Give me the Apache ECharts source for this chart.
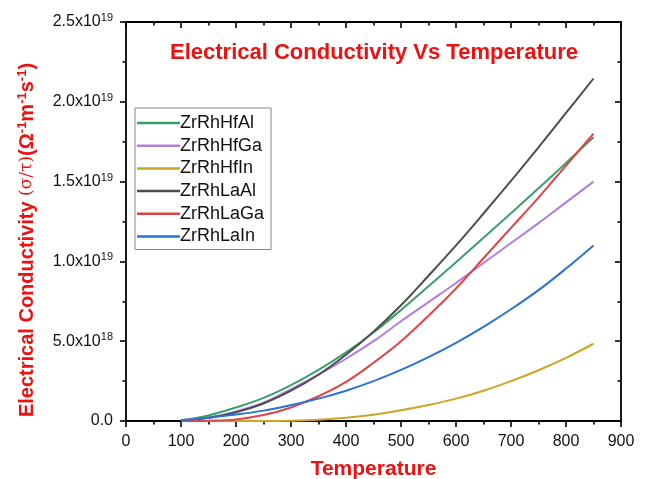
<!DOCTYPE html>
<html>
<head>
<meta charset="utf-8">
<script src="https://cdn.jsdelivr.net/npm/echarts@6/dist/echarts.min.js"></script>
<style>
  html, body { margin: 0; padding: 0; background: #fff; }
  #chart { width: 646px; height: 479px; }
</style>
</head>
<body>
<div id="chart"></div>
<script>
// temperatures (x) and conductivity values in units of 1e19
const temps = [100, 150, 200, 250, 300, 350, 400, 450, 500, 550, 600, 650, 700, 750, 800, 850];
const seriesNames = ['ZrRhHfAl', 'ZrRhHfGa', 'ZrRhHfIn', 'ZrRhLaAl', 'ZrRhLaGa', 'ZrRhLaIn'];
const zrRhHfAl = [0.005, 0.035, 0.085, 0.145, 0.225, 0.32, 0.43, 0.555, 0.695, 0.845, 0.995, 1.148, 1.302, 1.458, 1.617, 1.778];
const zrRhHfGa = [0.005, 0.02, 0.06, 0.115, 0.20, 0.29, 0.39, 0.50, 0.625, 0.745, 0.865, 0.99, 1.115, 1.24, 1.37, 1.50];
const zrRhHfIn = [0, 0, 0, 0, 0.002, 0.008, 0.02, 0.039, 0.067, 0.10, 0.14, 0.19, 0.25, 0.318, 0.396, 0.484];
const zrRhLaAl = [0.003, 0.02, 0.055, 0.11, 0.19, 0.29, 0.415, 0.56, 0.725, 0.91, 1.10, 1.30, 1.505, 1.715, 1.93, 2.146];
const zrRhLaGa = [0, 0.002, 0.01, 0.037, 0.085, 0.155, 0.245, 0.365, 0.50, 0.66, 0.83, 1.02, 1.21, 1.40, 1.60, 1.80];
const zrRhLaIn = [0.004, 0.02, 0.04, 0.065, 0.10, 0.14, 0.19, 0.25, 0.32, 0.40, 0.49, 0.59, 0.70, 0.82, 0.955, 1.10];
const yTickLabels = ['0.0', '5.0x10{s|18}', '1.0x10{s|19}', '1.5x10{s|19}', '2.0x10{s|19}', '2.5x10{s|19}'];
const colors = ['#3b9f6c', '#b07ee0', '#d0a424', '#4d4d4d', '#e04545', '#2a74d4'];

const allValues = [zrRhHfAl, zrRhHfGa, zrRhHfIn, zrRhLaAl, zrRhLaGa, zrRhLaIn];
const FONT = 'Liberation Sans, Arial, sans-serif';
const RED = '#ee1111';

const chart = echarts.init(document.getElementById('chart'), null, { renderer: 'canvas' });

const axisLine = { show: true, onZero: false, lineStyle: { color: '#000', width: 1.8 } };
const tickStyle = { color: '#000', width: 1.6 };

const option = {
  backgroundColor: '#fff',
  animation: false,
  title: {
    text: 'Electrical Conductivity Vs Temperature',
    left: 369,
    top: 37,
    textAlign: 'center',
    textStyle: { color: RED, fontFamily: FONT, fontWeight: 'bold', fontSize: 22 }
  },
  grid: { left: 126, right: 25, top: 22, bottom: 58, outerBoundsMode: 'none' },
  legend: {
    orient: 'vertical',
    left: 135,
    top: 108,
    padding: [6, 7, 4, 2],
    itemGap: 4.7,
    itemWidth: 43,
    itemHeight: 2.5,
    icon: 'rect',
    borderColor: '#888',
    borderWidth: 1,
    textStyle: { color: '#111', fontFamily: FONT, fontSize: 18, lineHeight: 18, padding: [0, 0, 0, -5] },
    data: seriesNames
  },
  graphic: [{
    type: 'text',
    x: 27,
    y: 240,
    rotation: Math.PI / 2,
    style: {
      text: '{b|Electrical Conductivity }{n|(σ/τ)}{b|(Ω}{s|-1}{b|m}{s|-1}{b|s}{s|-1}{b|)}',
      align: 'center',
      verticalAlign: 'middle',
      rich: {
        b: { fill: RED, fontFamily: FONT, fontWeight: 'bold', fontSize: 20 },
        n: { fill: RED, fontFamily: 'DejaVu Serif, serif', fontSize: 17 },
        s: { fill: RED, fontFamily: FONT, fontWeight: 'bold', fontSize: 13, padding: [0, 0, 9, 0] }
      }
    }
  }],
  xAxis: [{
    type: 'value',
    min: 0,
    max: 900,
    interval: 100,
    name: 'Temperature',
    nameLocation: 'middle',
    nameGap: 38,
    nameTextStyle: { color: RED, fontFamily: FONT, fontWeight: 'bold', fontSize: 21 },
    axisLine: axisLine,
    axisTick: { show: true, inside: false, length: 6, lineStyle: tickStyle },
    minorTick: { show: true, splitNumber: 2, length: 3.5, lineStyle: tickStyle },
    axisLabel: { color: '#111', fontFamily: FONT, fontSize: 16, margin: 13 },
    splitLine: { show: false }
  }, {
    type: 'value',
    position: 'top',
    min: 0,
    max: 900,
    interval: 100,
    axisLine: axisLine,
    axisTick: { show: true, inside: true, length: 6, lineStyle: tickStyle },
    minorTick: { show: true, splitNumber: 2, length: 3.5, lineStyle: tickStyle },
    axisLabel: { show: false },
    splitLine: { show: false }
  }],
  yAxis: [{
    type: 'value',
    min: 0,
    max: 2.5,
    interval: 0.5,
    axisLine: axisLine,
    axisTick: { show: true, inside: false, length: 6, lineStyle: tickStyle },
    minorTick: { show: true, splitNumber: 2, length: 3.5, lineStyle: tickStyle },
    axisLabel: {
      color: '#111',
      fontFamily: FONT,
      fontSize: 16,
      margin: 13,
      formatter: function (v) {
        return yTickLabels[Math.round(v / 0.5)];
      },
      rich: {
        s: { fontSize: 11, fontFamily: FONT, color: '#111', padding: [0, 0, 8, 0] }
      }
    },
    splitLine: { show: false }
  }, {
    type: 'value',
    position: 'right',
    min: 0,
    max: 2.5,
    interval: 0.5,
    axisLine: axisLine,
    axisTick: { show: true, inside: true, length: 6, lineStyle: tickStyle },
    minorTick: { show: true, splitNumber: 2, length: 3.5, lineStyle: tickStyle },
    axisLabel: { show: false },
    splitLine: { show: false }
  }],
  series: seriesNames.map(function (name, i) {
    return {
      name: name,
      type: 'line',
      xAxisIndex: 0,
      yAxisIndex: 0,
      smooth: 0.4,
      symbol: 'none',
      color: colors[i],
      lineStyle: { width: 2, color: colors[i] },
      data: temps.map(function (t, j) { return [t, allValues[i][j]]; })
    };
  })
};

chart.setOption(option);
</script>
</body>
</html>
